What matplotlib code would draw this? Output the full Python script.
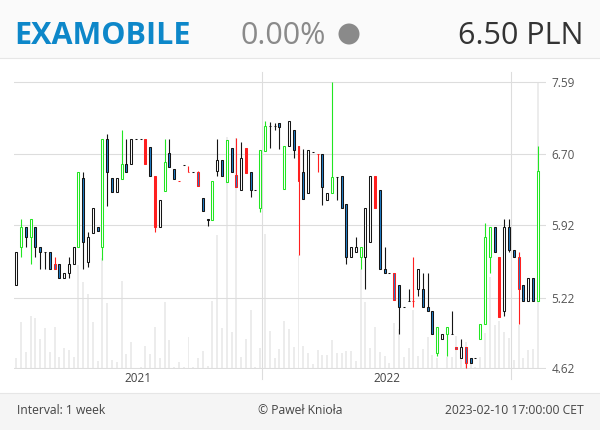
import numpy as np
import pandas as pd
import matplotlib
matplotlib.use("Agg")
import matplotlib.pyplot as plt
import matplotlib.dates as mdates
from matplotlib.patches import Rectangle, Ellipse
from matplotlib.ticker import NullLocator

plt.rcParams['font.family'] = ['Open Sans', 'DejaVu Sans']

# weekly candles, EXAMOBILE (PLN)
dates = pd.date_range('2021-01-08', '2023-02-10', freq='W-FRI')

opens = [5.34, 5.70, 5.90, 5.80, 5.90, 5.70, 5.65, 5.65, 5.54, 5.54,
         5.40, 5.45, 5.54, 5.70, 6.43, 5.55, 5.84, 5.90, 5.70, 6.88,
         6.43, 6.27, 6.41, 6.59, 6.59, 6.88, 6.88, 6.88, 6.78, 6.45,
         5.90, 6.28, 6.71, 6.53, 6.39, 6.57, 6.49, 6.49, 6.49, 6.21,
         5.99, 5.97, 6.51, 6.63, 6.38, 6.77, 6.46, 6.29, 6.77, 6.49,
         6.29, 6.10, 6.73, 7.03, 7.03, 7.07, 6.31, 6.79, 6.99, 6.79,
         6.49, 6.26, 6.72, 6.70, 6.70, 6.19, 6.26, 6.44, 6.45, 6.14,
         5.60, 5.65, 5.60, 5.60, 5.75, 6.45, 6.29, 5.49, 5.45, 5.45,
         5.34, 5.14, 5.19, 5.19, 5.30, 5.30, 5.14, 5.10, 4.74, 4.86,
         4.90, 4.90, 4.79, 4.70, 4.79, 4.70, 4.70, 4.86, 4.99, 5.60,
         5.90, 5.60, 5.10, 5.90, 5.67, 5.60, 5.34, 5.19, 5.40, 5.19]
highs = [5.65, 5.99, 5.90, 5.99, 5.90, 5.70, 5.65, 5.65, 5.60, 5.54,
         5.45, 5.60, 5.70, 6.49, 6.49, 5.85, 6.10, 5.90, 6.88, 6.94,
         6.43, 6.43, 6.99, 6.88, 6.88, 6.88, 6.88, 6.88, 6.78, 6.45,
         6.19, 6.88, 6.88, 6.53, 6.39, 6.57, 6.56, 6.49, 6.51, 6.21,
         5.99, 6.39, 6.88, 6.63, 6.87, 6.77, 6.89, 6.84, 6.77, 6.49,
         6.29, 6.75, 7.09, 7.08, 7.07, 7.07, 6.79, 7.09, 6.99, 6.79,
         6.76, 6.75, 6.72, 6.70, 6.70, 6.26, 7.59, 6.44, 6.45, 6.14,
         5.70, 5.80, 5.70, 6.10, 6.45, 6.45, 6.29, 5.70, 5.45, 5.45,
         5.34, 5.14, 5.30, 5.60, 5.49, 5.45, 5.45, 5.10, 4.96, 4.90,
         4.96, 5.10, 4.79, 4.86, 4.79, 4.70, 4.70, 4.99, 5.94, 5.90,
         5.90, 5.60, 5.99, 5.99, 5.67, 5.65, 5.34, 5.40, 5.40, 6.79]
lows = [5.34, 5.60, 5.70, 5.54, 5.60, 5.49, 5.49, 5.49, 5.49, 5.40,
        5.40, 5.40, 5.54, 5.70, 5.49, 5.51, 5.84, 5.86, 5.57, 6.12,
        6.27, 6.27, 6.41, 6.49, 6.59, 6.88, 6.88, 6.59, 6.45, 5.85,
        5.90, 6.28, 6.55, 6.41, 6.39, 6.57, 6.49, 6.49, 6.34, 6.07,
        5.91, 5.97, 6.45, 6.45, 6.38, 6.49, 6.33, 6.29, 6.48, 6.22,
        6.29, 6.06, 6.73, 6.77, 6.99, 6.76, 6.31, 6.79, 6.65, 5.62,
        6.20, 6.26, 6.72, 6.49, 6.13, 6.19, 6.26, 6.19, 6.10, 5.54,
        5.60, 5.65, 5.49, 5.30, 5.75, 6.10, 5.49, 5.45, 5.45, 5.20,
        4.90, 5.14, 5.19, 5.14, 5.24, 5.14, 5.10, 4.90, 4.72, 4.86,
        4.72, 4.90, 4.78, 4.70, 4.62, 4.66, 4.70, 4.86, 4.99, 5.45,
        5.65, 5.05, 5.06, 5.65, 5.60, 4.99, 5.19, 5.19, 5.19, 5.19]
closes = [5.65, 5.90, 5.80, 5.99, 5.70, 5.65, 5.65, 5.49, 5.49, 5.40,
          5.45, 5.54, 5.70, 6.49, 5.75, 5.80, 6.10, 5.86, 6.88, 6.49,
          6.27, 6.43, 6.59, 6.49, 6.88, 6.88, 6.88, 6.59, 6.45, 5.90,
          6.19, 6.61, 6.55, 6.41, 6.39, 6.57, 6.49, 6.49, 6.34, 6.07,
          5.97, 6.39, 6.63, 6.45, 6.87, 6.49, 6.33, 6.65, 6.48, 6.29,
          6.29, 6.75, 7.03, 7.03, 7.03, 7.02, 6.79, 7.09, 6.75, 6.39,
          6.20, 6.75, 6.72, 6.70, 6.33, 6.26, 6.44, 6.44, 6.10, 5.60,
          5.70, 5.70, 5.70, 6.10, 6.45, 6.10, 5.49, 5.45, 5.45, 5.20,
          5.14, 5.14, 5.19, 5.19, 5.49, 5.14, 5.10, 4.90, 4.96, 4.90,
          4.96, 4.90, 4.78, 4.79, 4.66, 4.66, 4.70, 4.99, 5.80, 5.90,
          5.65, 5.05, 5.90, 5.67, 5.60, 5.30, 5.19, 5.40, 5.19, 6.50]
# volume, thousand shares
volume = [10.5, 46.5, 16.5, 52.5, 50.5, 29.7, 40.5, 17.3, 42.3, 12,
          21.3, 18.7, 11.5, 104, 86.3, 74.7, 46.3, 8, 110, 65.5,
          8.5, 7, 87.5, 15.3, 27.3, 1.3, 1.5, 22.5, 15.3, 41.8,
          10.5, 66.3, 28.7, 2.3, 7.3, 1.5, 31.7, 1.5, 11.3, 18,
          2.5, 67.7, 133, 41, 231, 37.3, 229.7, 12, 29.7, 58.7,
          2, 21.3, 134.7, 37.8, 10.8, 19.7, 47.5, 39.7, 21.7, 113,
          22.7, 15.5, 5, 18.7, 13.7, 13.7, 28.8, 15.8, 16, 18,
          18, 8, 99.7, 66.8, 21, 42, 17, 13, 6, 45.5,
          39.5, 12, 20.7, 59.2, 12.5, 20, 31.5, 14.3, 11.3, 1.3,
          12, 11.7, 33.3, 18, 27, 6.3, 2, 12, 36, 91.5,
          44, 47.5, 37, 30.5, 9, 44.2, 11.3, 18.8, 20, 285.7]
# k = normal, g = strong up, r = weak, R = strong down
flags = ("kgkgkkkkrk" "kkkgkkkkgk" "kkgkkkkRkR" "kgkkrkrkrk"
         "kgkkgkrkRk" "kggkkkgkkr" "kkkrkkgkkk" "kkgkkRkkkr"
         "kkkrkkkkgk" "gkrkrkkggg" "kRkkkrkkkg")

price_ticks = [4.62, 5.22, 5.92, 6.70, 7.59]
year_starts = ['2022-01-03', '2023-01-02']
year_labels = ['2021', '2022']

edge_col = {'k': '#151515', 'g': '#22e622', 'r': '#ff1f1f', 'R': '#ff1f1f'}
blue = '#1f7cc6'

W, H = 600, 430
fig = plt.figure(figsize=(W / 100, H / 100), dpi=100, facecolor='#fafafa')
fig.patches.append(Rectangle((0, 1 - 393 / H), 1, (393 - 58) / H, transform=fig.transFigure,
                             facecolor='white', edgecolor='none', zorder=-5))
fig.patches.append(Rectangle((0, 0), 1, 1 - 393 / H, transform=fig.transFigure,
                             facecolor='#f5f5f5', edgecolor='none', zorder=-5))
fig.lines.append(plt.Line2D([0, 1], [1 - 58 / H] * 2, transform=fig.transFigure,
                            color='#e6e6e6', lw=0.8, zorder=-4))
fig.lines.append(plt.Line2D([0, 1], [1 - 393 / H] * 2, transform=fig.transFigure,
                            color='#e6e6e6', lw=0.8, zorder=-4))

pos = [13.5 / W, 1 - 369 / H, (546 - 13.5) / W, (369 - 72) / H]
x = mdates.date2num(dates)
xlim = (x[0] - 4.1, x[-1] + 12.2)

# volume in the background
vax = fig.add_axes(pos, zorder=1)
vax.bar(x, volume, width=2.9, color='#ececec', linewidth=0)
vax.set_xlim(xlim)
vax.set_ylim(0, max(volume) * 297 / 287)
vax.set_axis_off()

ax = fig.add_axes(pos, zorder=2)
ax.patch.set_visible(False)
ax.set_yscale('log')
ax.set_xlim(xlim)
ax.set_ylim(4.613, 7.725)

body_w = 2.9
for xi, o, h, l, c, f in zip(x, opens, highs, lows, closes, flags):
    ec = edge_col[f]
    if f == 'R':
        fc = ec
    elif c < o:
        fc = blue
    else:
        fc = 'white'
    if h > l:
        ax.vlines(xi, l, h, color=ec, lw=0.8, zorder=3)
    ax.add_patch(Rectangle((xi - body_w / 2, min(o, c)), body_w, abs(c - o),
                           facecolor=fc, edgecolor=ec, lw=0.75, zorder=4))

ax.set_yticks(price_ticks)
ax.set_yticklabels([f'{t:.2f}' for t in price_ticks])
ax.yaxis.set_minor_locator(NullLocator())
ax.yaxis.tick_right()
ax.tick_params(axis='y', length=0, pad=4, labelsize=8.5, labelcolor='#555555')
ax.set_xticks([])
ax.grid(axis='y', color='#dddddd', lw=0.8, zorder=0)
for s in ax.spines.values():
    s.set_visible(False)

seps = mdates.datestr2num(year_starts)
for sx in seps:
    ax.axvline(sx, ymin=-10 / 297, ymax=1, color='#dddddd', lw=0.8, clip_on=False, zorder=1)
bounds = [xlim[0]] + list(seps)
for i, lab in enumerate(year_labels):
    ax.text((bounds[i] + bounds[i + 1]) / 2, -9 / 297, lab, transform=ax.get_xaxis_transform(),
            ha='center', va='center', fontsize=8.5, color='#444444')

# header
fig.text(14 / W, 1 - 44 / H, 'EXAMOBILE', fontsize=22, fontweight='bold', color='#0d87c9', va='baseline')
fig.text(240 / W, 1 - 44 / H, '0.00%', fontsize=22, color='#8a8a8a', va='baseline')
fig.patches.append(Ellipse((349 / W, 1 - 34 / H), 21 / W, 21 / H, transform=fig.transFigure,
                           facecolor='#8a8a8a', edgecolor='none'))
fig.text(584 / W, 1 - 44 / H, '6.50 PLN', fontsize=22, color='#333333', ha='right', va='baseline')

# footer
fig.text(17 / W, 1 - 414 / H, 'Interval: 1 week', fontsize=8.7, color='#444444', va='baseline')
fig.text(300 / W, 1 - 414 / H, '\u00a9 Pawe\u0142 Knio\u0142a', fontsize=8.7, color='#444444', ha='center', va='baseline')
fig.text(584 / W, 1 - 414 / H, '2023-02-10 17:00:00 CET', fontsize=8.7, color='#444444', ha='right', va='baseline')

fig.savefig('out.png', dpi=100, facecolor=fig.get_facecolor())
